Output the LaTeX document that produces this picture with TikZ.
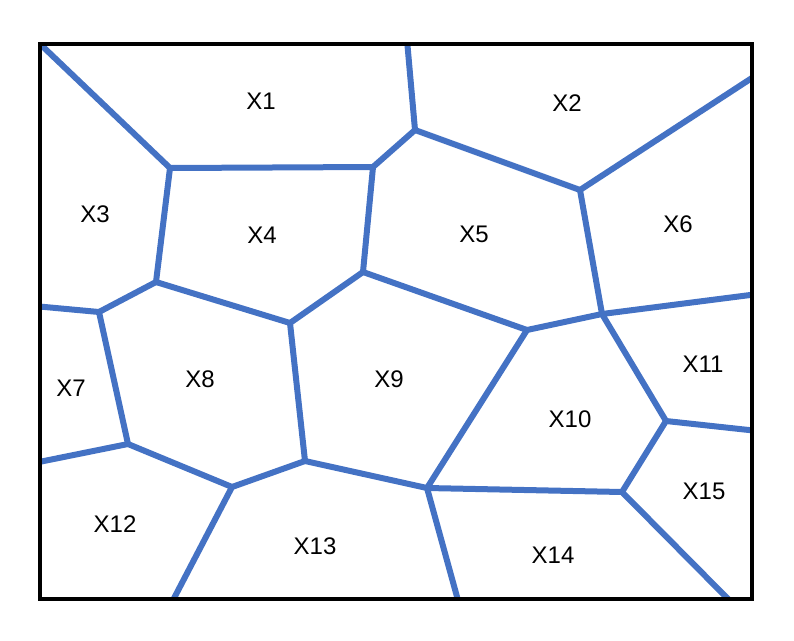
\documentclass[tikz,border=0pt]{standalone}
\usepackage{fontspec}
\setmainfont{Liberation Sans}
\definecolor{edgeblue}{RGB}{68,114,196}
\begin{document}
\begin{tikzpicture}[x=1pt,y=-1pt,
  edge/.style={draw=edgeblue,line width=6pt,line cap=round},
  lbl/.style={font=\fontsize{24}{28}\selectfont,inner sep=0pt}]
\useasboundingbox (0,0) rectangle (794,640);
\begin{scope}
\clip (40,44) rectangle (752,599);
\coordinate (A) at (38,42);
\coordinate (B) at (170,168);
\coordinate (C) at (373,167);
\coordinate (D) at (415,130);
\coordinate (E) at (407,40);
\coordinate (F) at (580,190);
\coordinate (G) at (758,74);
\coordinate (H) at (156,282);
\coordinate (I) at (363,272);
\coordinate (J) at (602,314);
\coordinate (K) at (758,294);
\coordinate (L) at (99,312);
\coordinate (M) at (34,306);
\coordinate (N) at (290,323);
\coordinate (O) at (527,330);
\coordinate (P) at (128,444);
\coordinate (Q) at (34,463);
\coordinate (R) at (232,487);
\coordinate (S) at (305,461);
\coordinate (T) at (427,488);
\coordinate (U) at (622,492);
\coordinate (V) at (666,421);
\coordinate (W) at (758,431);
\coordinate (X) at (171,604);
\coordinate (Y) at (459,604);
\coordinate (Z) at (733,604);
\foreach \a/\b in {A/B,B/C,C/D,D/E,D/F,F/G,F/J,C/I,B/H,H/L,L/M,H/N,I/N,I/O,O/J,J/K,L/P,P/Q,P/R,R/X,R/S,N/S,S/T,O/T,T/Y,T/U,J/V,V/W,V/U,U/Z}
  \draw[edge] (\a) -- (\b);
\end{scope}
\draw[line width=3.5pt] (40,44) rectangle (752,599);
\node[lbl] (x1) at (261,101) {X1};
\node[lbl] (x2) at (567,103) {X2};
\node[lbl] (x3) at (95,214) {X3};
\node[lbl] (x4) at (262,235) {X4};
\node[lbl] (x5) at (474,234) {X5};
\node[lbl] (x6) at (678,224) {X6};
\node[lbl] (x7) at (71,388) {X7};
\node[lbl] (x8) at (200,379) {X8};
\node[lbl] (x9) at (389,379) {X9};
\node[lbl] (x10) at (570,419) {X10};
\node[lbl] (x11) at (703,364) {X11};
\node[lbl] (x12) at (115,524) {X12};
\node[lbl] (x13) at (315,546) {X13};
\node[lbl] (x14) at (553,555) {X14};
\node[lbl] (x15) at (704,491) {X15};
\end{tikzpicture}
\end{document}
